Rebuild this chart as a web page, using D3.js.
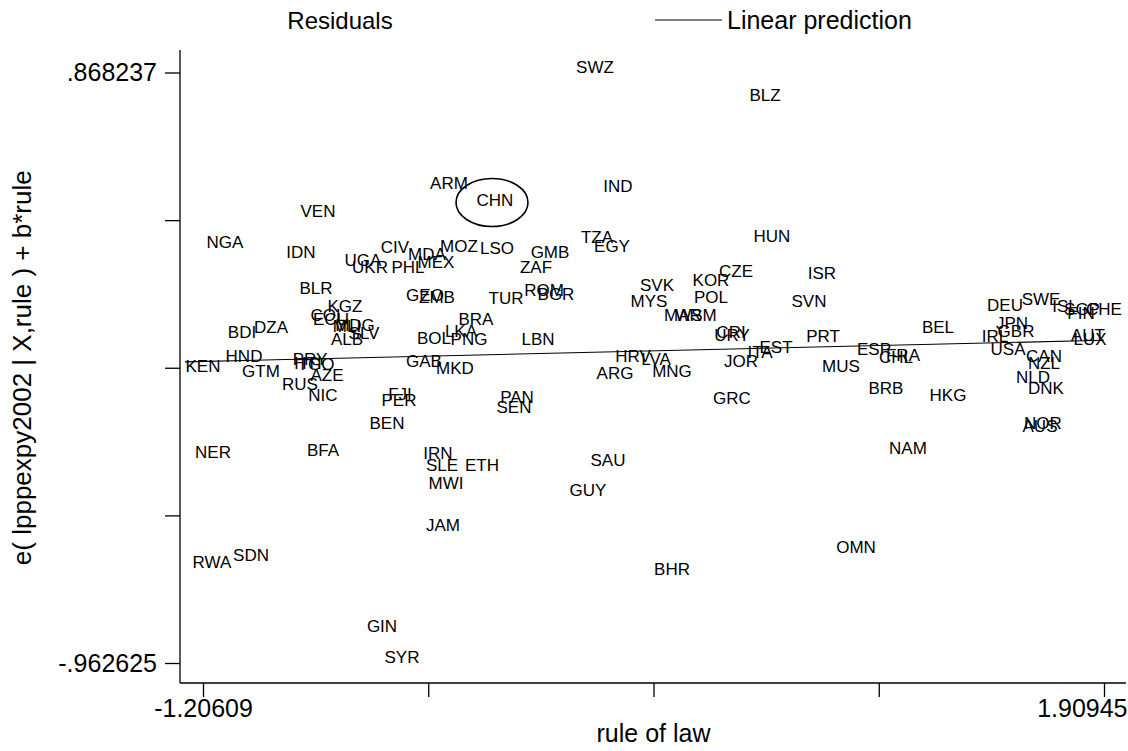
<!DOCTYPE html>
<html>
<head>
<meta charset="utf-8">
<script src="https://cdn.jsdelivr.net/npm/d3@7"></script>
<style>
  body { margin: 0; background: #fff; }
  text { font-family: "Liberation Sans", Arial, sans-serif; fill: #000; }
</style>
</head>
<body>
<svg></svg>
<script>
// country codes, rule of law (x) and partial residuals (y)
const codes = ["SWZ","BLZ","ARM","CHN","IND","VEN","NGA","IDN","CIV","UGA",
  "UKR","PHL","MDA","MEX","MOZ","LSO","GMB","ZAF","TZA","EGY",
  "HUN","CZE","KOR","ISR","POL","SVN","SVK","MYS","MAR","WSM",
  "BDI","DZA","HND","KEN","GTM","PRY","HTI","TGO","RUS","AZE",
  "NIC","FJI","PER","BLR","KGZ","COL","ECU","MDG","MLI","ALB",
  "SLV","GEO","ZMB","BRA","LKA","BOL","PNG","GAB","MKD","TUR",
  "ROM","BGR","LBN","HRV","LVA","ARG","MNG","PAN","SEN","BEN",
  "NER","BFA","IRN","SLE","ETH","MWI","SAU","GUY","JAM","RWA",
  "SDN","GIN","SYR","GRC","BHR","OMN","NAM","HKG","BRB","NOR",
  "AUS","JOR","ITA","EST","CRI","URY","PRT","MUS","ESP","CHL",
  "FRA","BEL","DEU","SWE","ISL","SGP","FIN","CHE","JPN","GBR",
  "IRL","USA","CAN","NZL","NLD","DNK","AUT","LUX"];

const ruleOfLaw = [0.1494,0.7372,-0.3555,-0.1964,0.2289,-0.8084,-1.1300,-0.8672,-0.5422,-0.6528,
  -0.6286,-0.4972,-0.4315,-0.4004,-0.3209,-0.1895,-0.0062,-0.0546,0.1563,0.2082,
  0.7614,0.6370,0.5505,0.9343,0.5505,0.8894,0.3638,0.3361,0.4537,0.4986,
  -1.0712,-0.9710,-1.0643,-1.20609,-1.0055,-0.8361,-0.8430,-0.8154,-0.8707,-0.7773,
  -0.7912,-0.5249,-0.5284,-0.8154,-0.7151,-0.7739,-0.7635,-0.6805,-0.7082,-0.7082,
  -0.6494,-0.4384,-0.3970,-0.2621,-0.3140,-0.4073,-0.2863,-0.4419,-0.3347,-0.1584,
  -0.0270,0.0145,-0.0477,0.2808,0.3603,0.2186,0.4157,-0.1203,-0.1307,-0.5698,
  -1.1715,-0.7912,-0.3935,-0.3797,-0.2413,-0.3658,0.1943,0.1252,-0.3762,-1.1750,
  -1.0401,-0.5871,-0.5180,0.6231,0.4157,1.0519,1.2317,1.3700,1.1556,1.6985,
  1.6882,0.6543,0.7200,0.7753,0.6197,0.6231,0.9378,1.0000,1.1142,1.1902,
  1.2144,1.3355,1.5671,1.6916,1.7746,1.8334,1.8299,1.90945,1.5913,1.6052,
  1.5326,1.5775,1.7020,1.7020,1.6640,1.7089,1.8541,1.8611];

const residuals = [0.868237,0.7814,0.5055,0.4528,0.4962,0.4187,0.3226,0.2916,0.3101,0.2698,
  0.2481,0.2481,0.2884,0.2636,0.3132,0.3070,0.2916,0.2481,0.3411,0.3132,
  0.3442,0.2357,0.2078,0.2295,0.1551,0.1427,0.1923,0.1427,0.0993,0.0993,
  0.0435,0.0590,-0.0309,-0.0619,-0.0774,-0.0402,-0.0526,-0.0557,-0.1177,-0.0898,
  -0.1518,-0.1487,-0.1673,0.1830,0.1272,0.0993,0.0869,0.0683,0.0621,0.0218,
  0.0404,0.1613,0.1551,0.0869,0.0466,0.0249,0.0218,-0.0464,-0.0651,0.1520,
  0.1768,0.1644,0.0218,-0.0309,-0.0402,-0.0806,-0.0744,-0.1550,-0.1860,-0.2356,
  -0.3255,-0.3193,-0.3286,-0.3658,-0.3658,-0.4216,-0.3503,-0.4433,-0.5549,-0.6696,
  -0.6479,-0.8650,-0.962625,-0.1581,-0.6883,-0.6231,-0.3131,-0.1518,-0.1271,-0.2356,
  -0.2449,-0.0464,-0.0185,-0.0030,0.0435,0.0342,0.0311,-0.0619,-0.0092,-0.0340,
  -0.0278,0.0590,0.1303,0.1489,0.1272,0.1179,0.1055,0.1179,0.0745,0.0466,
  0.0311,-0.0092,-0.0309,-0.0526,-0.0930,-0.1271,0.0342,0.0218];

const xTicks = [-1.20609, -0.427205, 0.35168, 1.130565, 1.90945];
const yTicks = [0.868237, 0.4105215, -0.047194, -0.50491, -0.962625];
const xTickLabels = ["-1.20609", "", "", "", "1.90945"];
const yTickLabels = [".868237", "", "", "", "-.962625"];

// linear fit end points
const fitX = [-1.2683, 1.90945];
const fitY = [-0.0290, 0.0380];

const highlighted = "CHN";

const width = 1128;
const height = 751;

const svg = d3.select("svg")
    .attr("width", width)
    .attr("height", height);

const x = d3.scaleLinear()
    .domain([xTicks[0], xTicks[4]])
    .range([203, 1104]);

const y = d3.scaleLinear()
    .domain([yTicks[4], yTicks[0]])
    .range([663, 72.5]);

const plotLeft = 180, plotRight = 1126, plotTop = 50, plotBottom = 683;

// axis lines (stata style: span the whole plot region)
svg.append("line")
    .attr("x1", plotLeft).attr("x2", plotLeft)
    .attr("y1", plotTop).attr("y2", plotBottom)
    .attr("stroke", "#000").attr("stroke-width", 1.3);
svg.append("line")
    .attr("x1", plotLeft).attr("x2", plotRight)
    .attr("y1", plotBottom).attr("y2", plotBottom)
    .attr("stroke", "#000").attr("stroke-width", 1.3);

const yAxis = svg.append("g")
    .attr("transform", `translate(${plotLeft},0)`)
    .call(d3.axisLeft(y)
        .tickValues(yTicks)
        .tickFormat((d, i) => yTickLabels[i])
        .tickSize(15)
        .tickPadding(8));
yAxis.select(".domain").remove();
yAxis.selectAll("line").attr("stroke", "#000").attr("stroke-width", 1.3);
yAxis.selectAll("text")
    .style("font-family", "Liberation Sans, Arial, sans-serif")
    .style("font-size", "25px");

const xAxis = svg.append("g")
    .attr("transform", `translate(0,${plotBottom})`)
    .call(d3.axisBottom(x)
        .tickValues(xTicks)
        .tickFormat((d, i) => xTickLabels[i])
        .tickSize(14)
        .tickPadding(2));
xAxis.select(".domain").remove();
xAxis.selectAll("line").attr("stroke", "#000").attr("stroke-width", 1.3);
xAxis.selectAll("text")
    .style("font-family", "Liberation Sans, Arial, sans-serif")
    .style("font-size", "25px");
// keep the last label inside the window
xAxis.selectAll(".tick").filter((d, i) => i === xTicks.length - 1)
    .select("text")
    .attr("text-anchor", "end")
    .attr("x", width - 1 - x(xTicks[4]));

// axis titles
svg.append("text")
    .attr("x", (x.range()[0] + x.range()[1]) / 2)
    .attr("y", 742)
    .attr("text-anchor", "middle")
    .style("font-size", "25px")
    .text("rule of law");

svg.append("text")
    .attr("transform", `translate(31,${(y.range()[0] + y.range()[1]) / 2}) rotate(-90)`)
    .attr("text-anchor", "middle")
    .style("font-size", "26px")
    .text("e( lpppexpy2002 | X,rule ) + b*rule");

// fitted line
svg.append("path")
    .datum(fitX.map((v, i) => [v, fitY[i]]))
    .attr("fill", "none")
    .attr("stroke", "#000")
    .attr("stroke-width", 1.1)
    .attr("d", d3.line().x(d => x(d[0])).y(d => y(d[1])));

// country labels
svg.append("g")
    .selectAll("text")
    .data(codes)
    .enter().append("text")
    .attr("x", (d, i) => x(ruleOfLaw[i]))
    .attr("y", (d, i) => y(residuals[i]))
    .attr("text-anchor", "middle")
    .style("font-size", "17px")
    .text(d => d);

// circle round the highlighted country
const hi = codes.indexOf(highlighted);
svg.append("ellipse")
    .attr("cx", x(ruleOfLaw[hi]) - 3)
    .attr("cy", y(residuals[hi]) - 4)
    .attr("rx", 36)
    .attr("ry", 24)
    .attr("fill", "none")
    .attr("stroke", "#000")
    .attr("stroke-width", 1.6);

// legend
svg.append("text")
    .attr("x", 340)
    .attr("y", 29)
    .attr("text-anchor", "middle")
    .style("font-size", "24px")
    .text("Residuals");
svg.append("line")
    .attr("x1", 655).attr("x2", 722)
    .attr("y1", 20).attr("y2", 20)
    .attr("stroke", "#000").attr("stroke-width", 1.1);
svg.append("text")
    .attr("x", 727)
    .attr("y", 29)
    .style("font-size", "25px")
    .text("Linear prediction");
</script>
</body>
</html>
